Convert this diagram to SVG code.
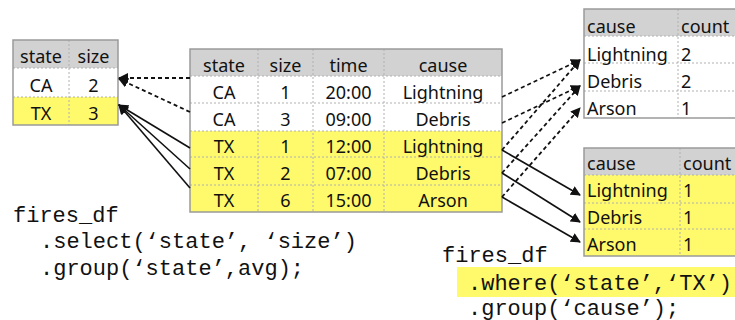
<svg xmlns="http://www.w3.org/2000/svg" width="735" height="320" viewBox="0 0 735 320">
<style>
.hd{fill:#d2d2d2}
.wh{fill:#ffffff}
.ye{fill:#fff96c}
.frame{fill:none;stroke:#9a9a9a;stroke-width:1.5}
.grid{stroke:#b0b0b0;stroke-width:1;stroke-dasharray:2,2;fill:none}
.t{font-family:"Noto Sans","Liberation Sans",sans-serif;font-size:18px;fill:#111}
.c{text-anchor:middle}
.code{font-family:"Liberation Mono","Courier New",monospace;font-size:22px;fill:#111}
.dash{stroke:#111;stroke-width:1.8;stroke-dasharray:4,3;fill:none}
.solid{stroke:#111;stroke-width:1.6;fill:none}
</style>
<defs>
<marker id="ah" viewBox="0 0 10 10" refX="9" refY="5" markerWidth="10" markerHeight="10" markerUnits="userSpaceOnUse" orient="auto">
<path d="M0,0 L10,5 L0,10 Z" fill="#111"/>
</marker>
</defs>

<g id="result-left">
<rect class="hd" x="13" y="40" width="105" height="28"/>
<rect class="wh" x="13" y="68" width="105" height="29"/>
<rect class="ye" x="13" y="97" width="105" height="28"/>
<path class="grid" d="M69,40 V125 M13,68 H118 M13,97 H118"/>
<rect class="frame" x="13" y="40" width="105" height="85"/>
<text class="t c" x="41" y="63">state</text>
<text class="t c" x="93.5" y="63">size</text>
<text class="t c" x="41" y="92">CA</text>
<text class="t c" x="93.5" y="92">2</text>
<text class="t c" x="41" y="120">TX</text>
<text class="t c" x="93.5" y="120">3</text>
</g>

<g id="fires-table">
<rect class="hd" x="190" y="49" width="312" height="27"/>
<rect class="wh" x="190" y="76" width="312" height="55"/>
<rect class="ye" x="190" y="131" width="312" height="81"/>
<path class="grid" d="M258,49 V212 M313,49 V212 M384,49 V212 M190,76 H502 M190,103 H502 M190,131 H502 M190,157 H502 M190,185 H502"/>
<rect class="frame" x="190" y="49" width="312" height="163"/>
<text class="t c" x="224" y="72">state</text>
<text class="t c" x="285.5" y="72">size</text>
<text class="t c" x="348.5" y="72">time</text>
<text class="t c" x="443" y="72">cause</text>
<text class="t c" x="224" y="99">CA</text>
<text class="t c" x="285.5" y="99">1</text>
<text class="t c" x="348.5" y="99">20:00</text>
<text class="t c" x="443" y="99">Lightning</text>
<text class="t c" x="224" y="126">CA</text>
<text class="t c" x="285.5" y="126">3</text>
<text class="t c" x="348.5" y="126">09:00</text>
<text class="t c" x="443" y="126">Debris</text>
<text class="t c" x="224" y="153">TX</text>
<text class="t c" x="285.5" y="153">1</text>
<text class="t c" x="348.5" y="153">12:00</text>
<text class="t c" x="443" y="153">Lightning</text>
<text class="t c" x="224" y="180">TX</text>
<text class="t c" x="285.5" y="180">2</text>
<text class="t c" x="348.5" y="180">07:00</text>
<text class="t c" x="443" y="180">Debris</text>
<text class="t c" x="224" y="207">TX</text>
<text class="t c" x="285.5" y="207">6</text>
<text class="t c" x="348.5" y="207">15:00</text>
<text class="t c" x="443" y="207">Arson</text>
</g>

<g id="result-top-right">
<rect class="hd" x="584" y="9" width="160" height="27"/>
<rect class="wh" x="584" y="36" width="160" height="82"/>
<path class="grid" d="M678,9 V118 M584,36 H744 M584,63 H744 M584,91 H744"/>
<rect class="frame" x="584" y="9" width="160" height="109"/>
<text class="t" x="587" y="33">cause</text>
<text class="t" x="681" y="33">count</text>
<text class="t" x="587" y="61">Lightning</text>
<text class="t" x="681" y="61">2</text>
<text class="t" x="587" y="88">Debris</text>
<text class="t" x="681" y="88">2</text>
<text class="t" x="587" y="115">Arson</text>
<text class="t" x="681" y="115">1</text>
</g>

<g id="result-bottom-right">
<rect class="hd" x="584" y="148" width="160" height="27"/>
<rect class="ye" x="584" y="175" width="160" height="81"/>
<path class="grid" d="M680,148 V256 M584,175 H744 M584,203 H744 M584,229 H744"/>
<rect class="frame" x="584" y="148" width="160" height="108"/>
<text class="t" x="587" y="170">cause</text>
<text class="t" x="683" y="170">count</text>
<text class="t" x="587" y="197">Lightning</text>
<text class="t" x="683" y="197">1</text>
<text class="t" x="587" y="224">Debris</text>
<text class="t" x="683" y="224">1</text>
<text class="t" x="587" y="251">Arson</text>
<text class="t" x="683" y="251">1</text>
</g>

<g id="connectors">
<line class="dash" x1="190" y1="78" x2="119" y2="78" marker-end="url(#ah)"/>
<line class="dash" x1="190" y1="112" x2="119" y2="79" marker-end="url(#ah)"/>
<line class="solid" x1="190" y1="148" x2="119" y2="105" marker-end="url(#ah)"/>
<line class="solid" x1="190" y1="169" x2="119" y2="105" marker-end="url(#ah)"/>
<line class="solid" x1="190" y1="188" x2="119" y2="105" marker-end="url(#ah)"/>
<line class="dash" x1="502" y1="97" x2="580" y2="60" marker-end="url(#ah)"/>
<line class="dash" x1="502" y1="123" x2="580" y2="86" marker-end="url(#ah)"/>
<line class="dash" x1="502" y1="150" x2="580" y2="60" marker-end="url(#ah)"/>
<line class="dash" x1="502" y1="173" x2="580" y2="86" marker-end="url(#ah)"/>
<line class="dash" x1="502" y1="197" x2="580" y2="108" marker-end="url(#ah)"/>
<line class="solid" x1="502" y1="150" x2="580" y2="195" marker-end="url(#ah)"/>
<line class="solid" x1="502" y1="173" x2="580" y2="222" marker-end="url(#ah)"/>
<line class="solid" x1="502" y1="197" x2="580" y2="242" marker-end="url(#ah)"/>
</g>

<g id="code-left">
<text class="code" x="13" y="222">fires_df</text>
<text class="code" x="40" y="248">.select(‘state’, ‘size’)</text>
<text class="code" x="40" y="275">.group(‘state’,avg);</text>
</g>

<g id="code-right">
<rect class="ye" x="457" y="267" width="278" height="30"/>
<text class="code" x="442" y="262">fires_df</text>
<text class="code" x="468" y="290">.where(‘state’,‘TX’)</text>
<text class="code" x="468" y="315">.group(‘cause’);</text>
</g>
</svg>
